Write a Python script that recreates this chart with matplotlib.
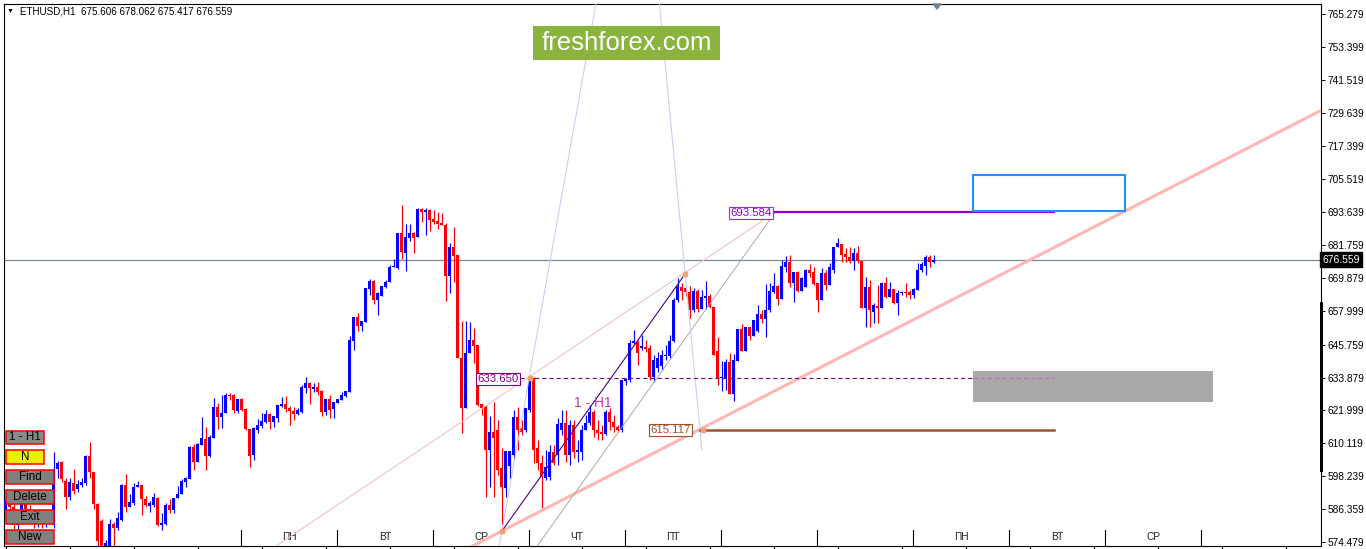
import numpy as np
import matplotlib
matplotlib.use('Agg')
import matplotlib.pyplot as plt
import matplotlib.transforms as mtransforms
from matplotlib.patches import Rectangle, Polygon

plt.rcParams['font.family'] = ['Liberation Sans', 'DejaVu Sans']
plt.rcParams['lines.scale_dashes'] = False

# ETHUSD H1 candles (bar index 1..233)
opens = [586.0, 589.6, 587.1, 580.5, 584.0, 588.9, 586.5, 583.0, 581.0, 581.8,
         581.2, 583.6, 580.6, 600.9, 603.4, 596.5, 590.7, 595.8, 593.6, 595.1,
         595.8, 605.6, 599.8, 588.2, 582.1, 573.0, 572.7, 581.0, 579.5, 582.4,
         595.1, 587.1, 588.6, 594.4, 595.1, 590.0, 587.5, 587.8, 590.4, 580.6,
         581.0, 587.8, 586.0, 590.4, 591.8, 596.2, 597.2, 608.8, 603.4, 609.5,
         611.7, 605.6, 612.1, 623.3, 619.6, 621.1, 627.6, 627.6, 621.8, 626.2,
         622.5, 615.3, 605.9, 615.0, 616.4, 617.8, 620.7, 617.8, 619.3, 623.6,
         624.3, 622.9, 621.8, 620.7, 621.4, 630.1, 631.9, 629.8, 630.5, 629.0,
         621.4, 626.2, 622.5, 624.7, 625.8, 627.2, 628.7, 647.1, 655.8, 652.5,
         654.0, 665.9, 668.8, 661.9, 663.4, 666.6, 668.4, 673.9, 673.5, 686.1,
         678.9, 684.3, 686.1, 684.7, 694.8, 693.7, 694.5, 691.2, 690.5, 689.8,
         689.0, 670.6, 681.1, 678.2, 641.0, 622.9, 642.8, 647.5, 645.7, 624.3,
         623.3, 607.7, 614.2, 615.0, 601.2, 594.0, 601.9, 605.9, 619.6, 615.7,
         615.0, 622.2, 633.7, 608.4, 603.0, 597.6, 598.0, 607.0, 605.9, 615.0,
         617.5, 605.9, 616.7, 607.0, 607.0, 615.0, 617.5, 621.4, 615.0, 614.2,
         613.5, 621.4, 617.8, 616.0, 615.0, 632.7, 633.0, 646.4, 646.8, 644.6,
         644.9, 644.6, 634.1, 637.4, 638.1, 641.7, 641.7, 647.1, 661.9, 666.6,
         666.3, 664.8, 658.3, 665.2, 658.7, 662.6, 663.4, 659.4, 643.5, 633.7,
         633.7, 639.5, 628.0, 639.9, 651.4, 643.5, 652.2, 648.9, 650.7, 656.9,
         655.1, 658.3, 664.8, 667.0, 662.3, 673.9, 675.7, 668.1, 672.0, 665.2,
         666.6, 672.8, 672.0, 668.1, 661.9, 671.7, 667.3, 672.8, 681.1, 682.2,
         678.6, 677.5, 676.0, 678.9, 676.0, 659.0, 666.6, 657.6, 659.8, 659.0,
         668.1, 663.0, 665.9, 660.8, 664.5, 664.8, 664.8, 663.7, 665.5, 672.8,
         674.2, 677.5, 675.606]
closes = [589.6, 587.1, 580.5, 584.0, 588.9, 586.5, 583.0, 581.0, 581.8, 581.2,
          583.6, 582.4, 600.5, 603.0, 597.2, 590.7, 596.2, 592.9, 595.4, 596.2,
          605.6, 599.8, 588.2, 574.8, 573.0, 574.1, 581.0, 579.5, 583.2, 595.1,
          587.1, 588.9, 594.4, 595.1, 590.0, 587.8, 588.6, 590.7, 580.6, 581.3,
          587.8, 586.0, 590.4, 591.8, 596.5, 597.6, 608.8, 603.4, 609.9, 612.1,
          605.6, 612.4, 623.3, 619.6, 621.1, 627.6, 627.2, 622.2, 626.2, 622.2,
          615.3, 605.6, 615.7, 616.7, 618.2, 620.7, 617.8, 620.0, 624.0, 624.3,
          622.5, 621.8, 620.7, 622.2, 630.5, 631.9, 630.1, 630.5, 628.7, 621.4,
          626.2, 622.2, 625.1, 626.2, 627.6, 629.0, 647.5, 655.8, 652.5, 654.3,
          666.3, 668.8, 661.9, 664.5, 667.0, 668.4, 673.9, 674.2, 686.1, 679.3,
          684.7, 686.1, 684.3, 694.8, 693.7, 694.5, 690.8, 690.1, 689.4, 689.0,
          670.6, 681.1, 677.8, 641.0, 622.9, 642.8, 647.5, 645.3, 624.0, 622.9,
          607.7, 614.2, 612.1, 600.5, 594.4, 607.4, 607.4, 619.6, 615.0, 614.2,
          622.9, 633.7, 607.7, 603.0, 598.0, 601.6, 607.0, 603.0, 617.1, 617.5,
          605.9, 616.7, 607.0, 607.7, 615.0, 617.5, 621.4, 615.0, 613.9, 613.5,
          621.4, 617.8, 616.0, 615.0, 633.0, 633.4, 646.4, 647.1, 642.8, 645.3,
          644.2, 634.1, 640.2, 641.0, 642.1, 642.1, 647.1, 661.9, 667.0, 665.2,
          664.8, 658.3, 665.2, 658.7, 663.0, 663.4, 659.4, 642.1, 633.7, 634.1,
          639.5, 627.9, 640.2, 651.4, 643.5, 652.2, 648.9, 654.7, 656.9, 655.1,
          658.3, 665.2, 667.0, 662.3, 674.2, 675.7, 668.1, 672.0, 665.2, 669.9,
          672.8, 671.7, 667.7, 661.9, 671.7, 667.3, 673.9, 681.1, 682.5, 678.2,
          677.5, 676.0, 678.9, 676.0, 659.0, 666.6, 658.3, 660.1, 659.0, 668.1,
          663.0, 665.9, 660.8, 664.5, 664.8, 664.5, 663.7, 665.9, 672.8, 674.9,
          677.5, 675.6, 676.559]
highs = [591.5, 592.0, 588.4, 585.8, 590.2, 591.0, 588.0, 584.5, 583.0, 582.9,
         584.5, 585.8, 607.0, 603.8, 603.8, 597.6, 597.6, 600.9, 596.9, 597.6,
         605.9, 610.6, 599.8, 588.6, 582.8, 575.2, 582.8, 581.7, 585.3, 595.4,
         599.0, 591.8, 595.8, 596.5, 595.1, 591.1, 589.3, 592.2, 590.7, 585.0,
         588.6, 590.0, 590.4, 594.7, 597.2, 598.0, 609.2, 609.9, 610.3, 619.6,
         616.0, 613.1, 626.5, 624.7, 627.6, 628.3, 628.3, 628.0, 626.2, 626.5,
         622.9, 615.3, 616.0, 618.9, 621.1, 622.2, 621.1, 620.0, 624.0, 626.9,
         627.2, 623.6, 623.3, 622.9, 631.2, 634.1, 632.3, 631.9, 632.3, 629.4,
         626.2, 627.6, 625.1, 626.2, 628.7, 629.0, 648.9, 655.8, 657.2, 654.3,
         666.3, 669.5, 669.2, 664.8, 667.0, 669.2, 674.6, 676.7, 686.1, 696.3,
         689.4, 689.4, 686.5, 695.2, 695.2, 695.2, 694.8, 694.5, 693.7, 693.4,
         689.8, 682.5, 688.3, 678.2, 654.3, 654.3, 654.0, 651.8, 645.7, 624.3,
         624.0, 620.0, 625.1, 618.6, 608.4, 607.4, 607.4, 622.2, 623.3, 618.6,
         622.9, 633.7, 634.1, 611.3, 605.9, 607.7, 609.5, 609.5, 619.3, 622.2,
         622.2, 618.6, 618.6, 611.3, 616.7, 620.4, 624.0, 622.2, 618.6, 616.7,
         622.2, 622.9, 620.4, 616.7, 633.0, 633.7, 647.5, 651.1, 647.5, 649.3,
         647.5, 645.7, 642.1, 643.1, 643.9, 645.7, 649.3, 662.6, 669.9, 668.1,
         667.3, 667.0, 666.3, 665.9, 665.5, 668.8, 664.1, 659.4, 648.5, 639.9,
         640.6, 642.8, 642.4, 651.4, 653.3, 652.2, 652.2, 654.7, 660.1, 658.3,
         667.7, 668.1, 671.7, 667.3, 676.4, 677.8, 678.2, 672.0, 672.4, 670.2,
         673.1, 674.9, 673.9, 668.1, 673.5, 672.8, 675.3, 681.1, 684.3, 682.2,
         680.7, 681.1, 680.7, 681.4, 676.0, 670.2, 669.2, 660.8, 667.3, 668.1,
         670.2, 668.4, 665.9, 665.5, 665.2, 668.1, 665.5, 666.3, 675.3, 675.7,
         678.2, 678.2, 678.062]
lows = [584.2, 585.5, 579.0, 578.3, 583.0, 585.0, 581.5, 579.5, 579.9, 579.5,
        580.0, 581.0, 579.5, 597.6, 596.2, 586.4, 589.7, 591.8, 592.5, 594.4,
        595.1, 597.6, 586.4, 573.0, 571.6, 571.9, 571.9, 573.0, 578.8, 582.1,
        585.3, 587.1, 587.8, 594.4, 584.2, 587.1, 585.3, 587.1, 580.3, 578.8,
        580.6, 585.0, 585.0, 590.4, 591.8, 594.4, 597.2, 600.5, 603.4, 609.5,
        600.5, 605.2, 612.1, 615.3, 615.7, 621.1, 625.8, 621.1, 621.1, 621.8,
        615.0, 601.6, 604.1, 613.9, 615.7, 617.5, 615.3, 616.0, 617.8, 623.3,
        621.4, 616.7, 618.6, 620.4, 621.1, 628.3, 624.3, 628.7, 627.6, 620.0,
        620.4, 619.3, 619.3, 624.7, 625.8, 626.9, 628.7, 643.9, 650.7, 650.7,
        654.0, 663.7, 660.5, 656.5, 663.4, 666.3, 668.4, 673.9, 673.1, 676.7,
        672.4, 683.2, 678.9, 684.7, 690.1, 685.4, 686.9, 689.4, 687.6, 689.0,
        661.6, 664.5, 668.4, 641.0, 613.9, 622.9, 642.8, 639.2, 623.6, 620.4,
        590.7, 594.4, 590.7, 598.7, 580.6, 590.7, 597.6, 604.1, 607.7, 613.1,
        614.2, 621.4, 603.0, 600.5, 586.8, 596.9, 596.9, 602.3, 602.3, 613.1,
        603.4, 602.3, 604.8, 603.4, 604.1, 615.0, 616.7, 612.4, 611.3, 611.3,
        613.1, 615.0, 614.2, 614.2, 614.2, 631.2, 632.3, 645.7, 638.4, 643.9,
        643.1, 633.0, 632.3, 635.9, 636.6, 640.2, 641.0, 646.8, 661.2, 661.9,
        663.4, 655.4, 657.6, 657.6, 658.7, 658.7, 659.0, 642.1, 631.2, 629.0,
        629.4, 627.9, 625.4, 639.9, 643.5, 643.5, 647.5, 648.9, 650.4, 653.6,
        648.6, 657.6, 664.5, 660.1, 662.3, 672.0, 666.6, 661.2, 664.8, 665.2,
        666.6, 670.2, 667.3, 657.6, 661.9, 665.5, 667.3, 671.7, 681.1, 675.7,
        675.7, 675.3, 672.8, 675.3, 659.0, 652.2, 652.2, 653.6, 653.6, 659.0,
        662.6, 663.0, 660.5, 656.5, 663.7, 663.0, 662.3, 662.6, 665.5, 672.0,
        670.9, 673.9, 675.417]

last_price = 676.559
price_ticks = [765.279, 753.399, 741.519, 729.639, 717.399, 705.519, 693.639, 681.759,
               669.879, 657.999, 645.759, 633.879, 621.999, 610.119, 598.239, 586.359, 574.479]
day_labels = ['ПН', 'ВТ', 'СР', 'ЧТ', 'ПТ', '', '', 'ПН', 'ВТ', 'СР']
first_day_bar = 59.875

# drawn objects (bar index, price)
support_x, support_y = [125.1, 280.9], [578.45, 694.09]
chan_pink_x, chan_pink_y = [99.6, 193.4], [602.92, 693.584]
chan_gray_x, chan_gray_y = [134.1, 193.4], [573.39, 693.584]
wave_x, wave_y = [125.1, 170.9], [578.45, 671.32]
fan_a_x, fan_a_y = [125.1, 148.6], [578.45, 768.9]
fan_b_x, fan_b_y = [175.1, 164.5], [607.72, 768.9]
lvl_top, lvl_mid, lvl_low = 693.584, 633.650, 615.117
lvl_top_x0, lvl_mid_x0, lvl_low_x0, lvl_x1 = 193.4, 129.6, 174.6, 263.1
target_box = (242.8, 280.9, 694.09, 706.92)
gray_zone = (242.9, 302.9, 625.06, 636.2)
pivots_x = [125.1, 132.1, 170.9, 175.4]
pivots_y = [578.45, 633.65, 671.32, 615.117]

W, H = 1366, 549
fig = plt.figure(figsize=(W / 100, H / 100), dpi=100)
ax = fig.add_axes([4 / W, 3.5 / H, 1317 / W, 542 / H])
ax.set_xlim(0.625, 329.875)
ax.set_ylim(573.21, 769.07)

x = np.arange(1, len(closes) + 1)
o = np.array(opens); c = np.array(closes); h = np.array(highs); l = np.array(lows)
up = c >= o
cols = np.where(up, '#0000FF', '#FF0000')

ax.axhline(last_price, color='#7a8898', lw=0.9, zorder=1)

ax.vlines(x, np.minimum(l, np.minimum(o, c)), np.maximum(h, np.maximum(o, c)),
          colors=cols, lw=0.85, zorder=3)
body = np.maximum(np.abs(c - o), 0.36)
ax.bar(x, body, bottom=np.minimum(o, c), width=0.75, color=cols, linewidth=0, zorder=3)


def ext(px, py, x0, x1):
    k = (py[1] - py[0]) / (px[1] - px[0])
    return [x0, x1], [py[0] + k * (x0 - px[0]), py[0] + k * (x1 - px[0])]


ax.add_patch(Rectangle((gray_zone[0], gray_zone[2]), gray_zone[1] - gray_zone[0],
                       gray_zone[3] - gray_zone[2], facecolor='#a9a9a9', edgecolor='none', zorder=2))

xs, ys = ext(support_x, support_y, 100, 335)
ax.plot(xs, ys, color='#ffb6b6', lw=2.2, zorder=4, solid_capstyle='butt')
xs, ys = ext(chan_pink_x, chan_pink_y, 60, 193.4)
ax.plot(xs, ys, color='#ecc4cc', lw=0.8, zorder=4)
xs, ys = ext(chan_gray_x, chan_gray_y, 130, 193.4)
ax.plot(xs, ys, color='#a8a8a8', lw=0.7, zorder=4)
ax.plot(wave_x, wave_y, color='#4b0082', lw=0.8, zorder=5)
xs, ys = ext(fan_a_x, fan_a_y, 124.4, 150)
ax.plot(xs, ys, color='#ccccf0', lw=0.8, zorder=4)
xs, ys = ext(fan_b_x, fan_b_y, 175.1, 163.5)
ax.plot(xs, ys, color='#ccccf0', lw=0.8, zorder=4)

ax.plot([lvl_top_x0, lvl_x1], [lvl_top, lvl_top], color='#9400d3', lw=1.6, zorder=5)
ax.plot([lvl_mid_x0, gray_zone[0]], [lvl_mid, lvl_mid], color='#800080', lw=0.8,
        ls=(0, (3, 2.2)), zorder=5)
ax.plot([gray_zone[0], lvl_x1], [lvl_mid, lvl_mid], color='#d060d0', lw=0.8,
        ls=(0, (3, 2.2)), zorder=5)
ax.plot([lvl_low_x0, lvl_x1], [lvl_low, lvl_low], color='#a0522d', lw=1.8, zorder=5)

ax.add_patch(Rectangle((target_box[0], target_box[2]), target_box[1] - target_box[0],
                       target_box[3] - target_box[2], facecolor='none', edgecolor='#1e90ff',
                       lw=1.5, zorder=5))
ax.plot(pivots_x, pivots_y, ls='none', marker='s', ms=2.5, color='#f4a070', zorder=6)

lab = dict(fontsize=8.2, va='center', ha='right', zorder=7)
ax.text(192.6, lvl_top - 0.2, '693.584', color='#9400d3',
        bbox=dict(boxstyle='square,pad=0.12', fc='white', ec='#9932cc', lw=0.8), **lab)
ax.text(129.2, lvl_mid - 0.3, '633.650', color='#800080',
        bbox=dict(boxstyle='square,pad=0.12', fc='white', ec='#800080', lw=0.8), **lab)
ax.text(172.4, lvl_low - 0.2, '615.117', color='#a0522d',
        bbox=dict(boxstyle='square,pad=0.12', fc='white', ec='#a0522d', lw=0.8), **lab)
ax.text(147.9, 624.7, '1 - H1', color='#cc33aa', fontsize=10, ha='center', va='center', zorder=7)

# price axis
ax.yaxis.tick_right()
ax.set_yticks(price_ticks)
ax.set_yticklabels(['%.3f' % v for v in price_ticks])
ax.tick_params(axis='y', direction='out', length=3, width=0.7, pad=1.5, labelsize=7.3)
ax.set_xticks([])
for s in ax.spines.values():
    s.set_linewidth(0.8)
tr = mtransforms.blended_transform_factory(ax.transAxes, ax.transData)
ax.text(1.0012, last_price, '676.559', transform=tr, fontsize=7.5, color='white',
        va='center', ha='left', bbox=dict(boxstyle='square,pad=0.2', fc='black', ec='black'))

# time axis
tx = mtransforms.blended_transform_factory(ax.transData, ax.transAxes)
for n in range(11):
    ax.plot([first_day_bar + 24 * n] * 2, [0, 0.028], color='black', lw=0.8,
            transform=tx, clip_on=False)
for n, d in enumerate(day_labels):
    ax.text(first_day_bar + 12 + 24 * n, 0.016, d, transform=tx, fontsize=7.3,
            ha='center', va='center', color='#202020')
for xk in np.arange(1.125, 329, 16):
    ax.plot([xk, xk], [0, -0.0065], color='black', lw=0.8, transform=tx, clip_on=False)


def px_rect(x0, y0, x1, y1, **kw):
    fig.add_artist(Rectangle((x0 / W, 1 - y1 / H), (x1 - x0) / W, (y1 - y0) / H,
                             transform=fig.transFigure, **kw))


# scroll marker on the price axis
px_rect(1320, 302, 1322.5, 472, facecolor='black', edgecolor='none')
fig.add_artist(Polygon([(933 / W, 1 - 4 / H), (941 / W, 1 - 4 / H), (937 / W, 1 - 9 / H)],
                       closed=True, transform=fig.transFigure, color='#708090'))

# header
fig.text(10 / W, 1 - 11 / H, '▼', fontsize=5, ha='center', va='center')
fig.text(20 / W, 1 - 11 / H, 'ETHUSD,H1  675.606 678.062 675.417 676.559',
         fontsize=7.1, va='center')

# watermark
px_rect(533, 26, 720, 60, facecolor='#8bb43e', edgecolor='none')
fig.text(626.5 / W, 1 - 43 / H, 'freshforex.com', color='white', fontsize=18.5,
         ha='center', va='center')

# buttons
buttons = [('1 - H1', 5.7, 430.7, 44.3, 444.3, '#8a8a8a'),
           ('N', 5.7, 450.3, 44.3, 464.3, '#eeee00'),
           ('Find', 5.7, 470.3, 54.3, 484.3, '#808080'),
           ('Delete', 5.7, 490.3, 54.3, 504.3, '#808080'),
           ('Exit', 5.7, 510.3, 54.3, 524.3, '#808080'),
           ('New', 5.7, 530.3, 54.3, 544.3, '#808080')]
for txt, x0, y0, x1, y1, fc in buttons:
    px_rect(x0, y0, x1, y1, facecolor=fc, edgecolor='#ff0000', lw=1.1)
    fig.text((x0 + x1) / 2 / W, 1 - (y0 + y1) / 2 / H, txt, fontsize=8.4,
             ha='center', va='center', color='black')

fig.savefig('out.png', dpi=100)
